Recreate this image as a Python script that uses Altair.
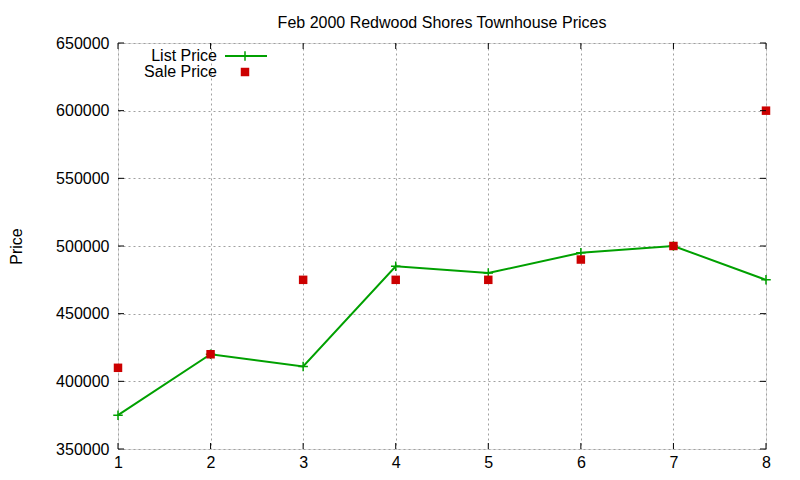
import altair as alt
import pandas as pd

# data
lots = [1, 2, 3, 4, 5, 6, 7, 8]
list_price = [375000, 420000, 411000, 485000, 480000, 495000, 500000, 475000]
sale_price = [410000, 420000, 475000, 475000, 475000, 490000, 500000, 600000]
y_ticks = [350000, 400000, 450000, 500000, 550000, 600000, 650000]

FONT = "Liberation Sans"
FS = 16
GREEN = "#00a000"
RED = "#cc0000"
W, H = 648, 406
PLUS = "M-1,0H1M0,-1V1"

df = pd.DataFrame({"lot": lots, "list": list_price, "sale": sale_price})

x_scale = alt.Scale(domain=[1, 8], nice=False)
y_scale = alt.Scale(domain=[350000, 650000], nice=False, zero=False)

x_enc = alt.X(
    "lot:Q",
    scale=x_scale,
    axis=alt.Axis(
        title=None, values=lots, format="d", grid=True, gridColor="#a0a0a0",
        gridDash=[2, 3], ticks=False, domain=False, labelFont=FONT,
        labelFontSize=FS, labelColor="black", labelPadding=5,
        labelFlush=False,
    ),
)
y_axis = alt.Axis(
    title="Price", values=y_ticks, format="d", grid=True, gridColor="#a0a0a0",
    gridDash=[2, 3], ticks=False, domain=False, labelFont=FONT,
    labelFontSize=FS, labelColor="black", labelPadding=9, labelFlush=False,
    titleFont=FONT, titleFontSize=FS, titleFontWeight="normal",
    titleColor="black", titlePadding=31,
)

base = alt.Chart(df)

line = base.mark_line(color=GREEN, strokeWidth=2).encode(
    x=x_enc, y=alt.Y("list:Q", scale=y_scale, axis=y_axis)
)
plus = base.mark_point(
    shape=PLUS, size=90, color=GREEN, filled=False, strokeWidth=1.5, opacity=1
).encode(x="lot:Q", y="list:Q")
squares = base.mark_square(size=72, color=RED, opacity=1).encode(
    x="lot:Q", y="sale:Q"
)

# inward ticks on all four sides
ytick_df = pd.DataFrame({"v": y_ticks})
xtick_df = pd.DataFrame({"v": lots})
tick_l = alt.Chart(ytick_df).mark_rule(color="black").encode(
    y="v:Q", x=alt.value(0), x2=alt.value(6)
)
tick_r = alt.Chart(ytick_df).mark_rule(color="black").encode(
    y="v:Q", x=alt.value(W - 6), x2=alt.value(W)
)
tick_b = alt.Chart(xtick_df).mark_rule(color="black").encode(
    x="v:Q", y=alt.value(H - 6), y2=alt.value(H)
)
tick_t = alt.Chart(xtick_df).mark_rule(color="black").encode(
    x="v:Q", y=alt.value(0), y2=alt.value(6)
)

# gnuplot style key, top left inside the frame
key_df = pd.DataFrame({"label": ["List Price", "Sale Price"]})
key_text1 = alt.Chart(key_df.iloc[[0]]).mark_text(
    align="right", baseline="middle", font=FONT, fontSize=FS, color="black"
).encode(text="label:N", x=alt.value(99), y=alt.value(13))
key_text2 = alt.Chart(key_df.iloc[[1]]).mark_text(
    align="right", baseline="middle", font=FONT, fontSize=FS, color="black"
).encode(text="label:N", x=alt.value(99), y=alt.value(29))
key_line = alt.Chart(key_df.iloc[[0]]).mark_rule(
    color=GREEN, strokeWidth=2
).encode(x=alt.value(107), x2=alt.value(149), y=alt.value(13))
key_plus = alt.Chart(key_df.iloc[[0]]).mark_point(
    shape=PLUS, size=90, color=GREEN, filled=False, strokeWidth=1.5, opacity=1
).encode(x=alt.value(127), y=alt.value(13))
key_sq = alt.Chart(key_df.iloc[[1]]).mark_square(
    size=72, color=RED, opacity=1
).encode(x=alt.value(127), y=alt.value(29))

chart = (
    alt.layer(
        line, plus, squares, tick_l, tick_r, tick_b, tick_t,
        key_text1, key_text2, key_line, key_plus, key_sq,
    )
    .properties(
        width=W,
        height=H,
        title=alt.TitleParams(
            "Feb 2000 Redwood Shores Townhouse Prices",
            font=FONT, fontSize=FS, fontWeight="normal", color="black",
            anchor="middle", offset=4,
        ),
        padding={"left": 110, "top": 35, "right": 26, "bottom": 23},
        autosize=alt.AutoSizeParams(type="none"),
    )
    .configure_view(stroke="black", strokeWidth=1)
    .configure(background="white")
)

chart.save("out.html", embed_options={"renderer": "svg", "actions": False})
